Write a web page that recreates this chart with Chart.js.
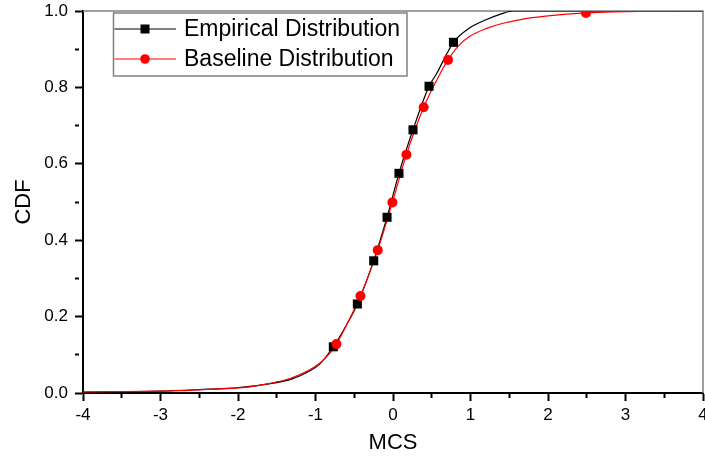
<!DOCTYPE html>
<html>
<head>
<meta charset="utf-8">
<script src="https://cdn.jsdelivr.net/npm/chart.js@4/dist/chart.umd.min.js"></script>
<style>
  html, body { margin: 0; padding: 0; background: #fff; }
  #wrap { width: 705px; height: 457px; }
</style>
</head>
<body>
<div id="wrap"><canvas id="cdf" width="705" height="457"></canvas></div>
<script>
// Empirical CDF curve (black)
const empCurveX = [-4, -3, -2.5, -2, -1.6, -1.3, -1.1, -0.95, -0.77, -0.6, -0.46, -0.25, -0.077, 0.077, 0.258, 0.465, 0.56, 0.78, 0.99, 1.2, 1.38, 1.55, 4];
const empCurveY = [0.002, 0.005, 0.009, 0.014, 0.024, 0.037, 0.055, 0.075, 0.121, 0.178, 0.233, 0.346, 0.46, 0.575, 0.689, 0.803, 0.835, 0.918, 0.956, 0.977, 0.991, 1.0, 1.0];
// Empirical sample markers
const empPointX = [-0.77, -0.46, -0.249, -0.077, 0.077, 0.258, 0.465, 0.78];
const empPointY = [0.121, 0.233, 0.346, 0.46, 0.575, 0.689, 0.803, 0.918];

// Baseline CDF curve (red)
const baseCurveX = [-4, -3.2, -2.75, -2.46, -2.1, -1.85, -1.59, -1.33, -1.08, -0.95, -0.82, -0.73, -0.58, -0.42, -0.197, -0.008, 0.173, 0.396, 0.6, 0.71, 0.85, 0.99, 1.2, 1.42, 1.63, 2.0, 2.49, 3.18, 4];
const baseCurveY = [0.003, 0.004, 0.006, 0.009, 0.012, 0.016, 0.025, 0.038, 0.06, 0.077, 0.103, 0.128, 0.186, 0.254, 0.374, 0.499, 0.624, 0.748, 0.833, 0.872, 0.91, 0.934, 0.954, 0.968, 0.977, 0.987, 0.995, 0.9992, 0.9996];
// Baseline markers
const basePointX = [-0.73, -0.42, -0.197, -0.008, 0.173, 0.396, 0.71, 2.49];
const basePointY = [0.128, 0.254, 0.374, 0.499, 0.624, 0.748, 0.872, 0.995];

// Axis ticks
const xTickLabels = [-4, -3, -2, -1, 0, 1, 2, 3, 4];
const yTickLabels = [0.0, 0.2, 0.4, 0.6, 0.8, 1.0];

const seriesNames = ['Empirical Distribution', 'Baseline Distribution'];

const toXY = (xs, ys) => xs.map((x, i) => ({ x: x, y: ys[i] }));

const FONT = '"Liberation Sans", Arial, sans-serif';

const isMajorX = v => xTickLabels.some(t => Math.abs(t - v) < 1e-6);
const isMajorY = v => yTickLabels.some(t => Math.abs(t - v) < 1e-6);

// Gray frame on the top and right of the plot area
const framePlugin = {
  id: 'frame',
  beforeDatasetsDraw(chart) {
    const { ctx, chartArea: a } = chart;
    ctx.save();
    ctx.strokeStyle = '#808080';
    ctx.lineWidth = 1.5;
    ctx.beginPath();
    ctx.moveTo(a.left, a.top);
    ctx.lineTo(a.right, a.top);
    ctx.lineTo(a.right, a.bottom);
    ctx.stroke();
    ctx.restore();
  }
};

// Boxed legend inside the plot area
const legendBoxPlugin = {
  id: 'legendBox',
  afterDraw(chart) {
    const { ctx } = chart;
    const box = { x: 113.5, y: 13, w: 293.5, h: 63 };
    ctx.save();
    ctx.fillStyle = '#fff';
    ctx.fillRect(box.x, box.y, box.w, box.h);
    ctx.strokeStyle = '#808080';
    ctx.lineWidth = 1.5;
    ctx.strokeRect(box.x, box.y, box.w, box.h);
    const rows = [
      { y: 29, color: '#000', style: 'rect', text: seriesNames[0] },
      { y: 59, color: '#ff0000', style: 'circle', text: seriesNames[1] }
    ];
    rows.forEach(r => {
      ctx.strokeStyle = r.color;
      ctx.lineWidth = 1;
      ctx.beginPath();
      ctx.moveTo(box.x + 1, r.y);
      ctx.lineTo(176, r.y);
      ctx.stroke();
      ctx.fillStyle = r.color;
      if (r.style === 'rect') {
        ctx.fillRect(145 - 4.5, r.y - 4.5, 9, 9);
      } else {
        ctx.beginPath();
        ctx.arc(145, r.y, 4.8, 0, Math.PI * 2);
        ctx.fill();
      }
      ctx.fillStyle = '#000';
      ctx.font = '23px ' + FONT;
      ctx.textAlign = 'left';
      ctx.textBaseline = 'middle';
      ctx.fillText(r.text, 184, r.y + 1);
    });
    ctx.restore();
  }
};

const tickFont = { family: FONT, size: 17 };
const titleFont = { family: FONT, size: 22 };

new Chart(document.getElementById('cdf'), {
  type: 'scatter',
  data: {
    datasets: [
      {
        label: seriesNames[1] + ' markers',
        data: toXY(basePointX, basePointY),
        showLine: false,
        pointStyle: 'circle',
        pointRadius: 5,
        pointBackgroundColor: '#ff0000',
        pointBorderWidth: 0
      },
      {
        label: seriesNames[0] + ' markers',
        data: toXY(empPointX, empPointY),
        showLine: false,
        pointStyle: 'rect',
        pointRadius: 6.4,
        pointBackgroundColor: '#000',
        pointBorderWidth: 0
      },
      {
        label: seriesNames[1],
        data: toXY(baseCurveX, baseCurveY),
        showLine: true,
        borderColor: '#ff0000',
        borderWidth: 1.2,
        pointRadius: 0,
        cubicInterpolationMode: 'monotone'
      },
      {
        label: seriesNames[0],
        data: toXY(empCurveX, empCurveY),
        showLine: true,
        borderColor: '#000',
        borderWidth: 1.2,
        pointRadius: 0,
        cubicInterpolationMode: 'monotone'
      }
    ]
  },
  options: {
    responsive: false,
    animation: false,
    devicePixelRatio: 1,
    layout: { autoPadding: false, padding: { top: 11, right: 2, left: 0, bottom: 0 } },
    plugins: {
      legend: { display: false },
      tooltip: { enabled: false }
    },
    scales: {
      x: {
        type: 'linear',
        min: -4,
        max: 4,
        afterBuildTicks(scale) {
          const t = [];
          for (let v = -8; v <= 8; v++) t.push({ value: v / 2 });
          scale.ticks = t;
        },
        afterFit(scale) {
          scale.height = 64;
          scale.paddingLeft = 0;
          scale.paddingRight = 0;
        },
        grid: {
          drawOnChartArea: false,
          drawTicks: true,
          tickLength: 8,
          tickWidth: 2,
          tickColor: '#000',
          tickBorderDash: c => (c.tick && isMajorX(c.tick.value)) ? [] : [4, 100]
        },
        border: { display: true, color: '#000', width: 2 },
        ticks: {
          autoSkip: false,
          maxRotation: 0,
          padding: 4,
          color: '#000',
          font: tickFont,
          callback: v => isMajorX(v) ? String(Math.round(v)) : ''
        },
        title: {
          display: true,
          text: 'MCS',
          color: '#000',
          font: titleFont,
          padding: { top: 0, bottom: 1 }
        }
      },
      y: {
        type: 'linear',
        min: 0,
        max: 1,
        afterBuildTicks(scale) {
          const t = [];
          for (let v = 0; v <= 10; v++) t.push({ value: v / 10 });
          scale.ticks = t;
        },
        afterFit(scale) {
          scale.width = 83;
          scale.paddingTop = 0;
          scale.paddingBottom = 0;
        },
        grid: {
          drawOnChartArea: false,
          drawTicks: true,
          tickLength: 8,
          tickWidth: 2,
          tickColor: '#000',
          tickBorderDash: c => (c.tick && isMajorY(c.tick.value)) ? [] : [4, 100]
        },
        border: { display: true, color: '#000', width: 2 },
        ticks: {
          autoSkip: false,
          padding: 7,
          color: '#000',
          font: tickFont,
          callback: v => isMajorY(v) ? v.toFixed(1) : ''
        },
        title: {
          display: true,
          text: 'CDF',
          color: '#000',
          font: titleFont,
          padding: { top: 11, bottom: 0 }
        }
      }
    }
  },
  plugins: [framePlugin, legendBoxPlugin]
});
</script>
</body>
</html>
